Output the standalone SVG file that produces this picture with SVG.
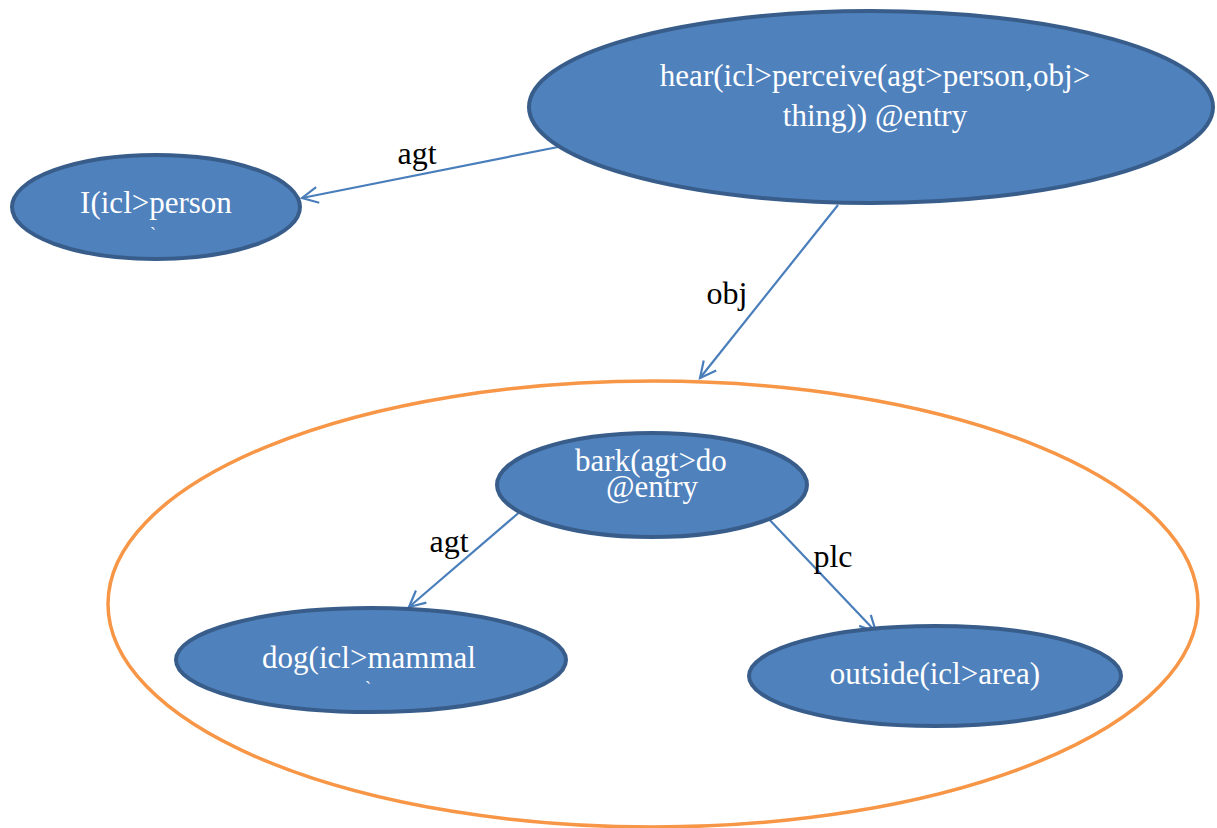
<svg xmlns="http://www.w3.org/2000/svg" width="1217" height="828" viewBox="0 0 1217 828">
<style>
.node{fill:#4F81BD;stroke:#385D8A;stroke-width:4}
.nt{font-family:"Liberation Serif","Times New Roman",serif;font-size:31px;fill:#FFFFFF;text-anchor:middle}
.lbl{font-family:"Liberation Serif","Times New Roman",serif;font-size:32px;fill:#000000;text-anchor:middle}
.edge{stroke:#4A7EBB;stroke-width:2.2;fill:none;marker-end:url(#arr)}
</style>
<defs>
<marker id="arr" markerUnits="userSpaceOnUse" markerWidth="24" markerHeight="24" refX="20" refY="12" orient="auto" viewBox="0 0 24 24">
<path d="M4,4 L20,12 L4,20" fill="none" stroke="#4A7EBB" stroke-width="2.2"/>
</marker>
</defs>
<rect width="1217" height="828" fill="#FFFFFF"/>
<g id="scope">
<ellipse cx="653" cy="604" rx="545" ry="223" fill="none" stroke="#F79646" stroke-width="3.5"/>
</g>
<g id="connectors">
<line class="edge" x1="558" y1="147" x2="302" y2="198"/>
<text class="lbl" x="417" y="164">agt</text>
<line class="edge" x1="838" y1="205" x2="700" y2="378"/>
<text class="lbl" x="727" y="304">obj</text>
<line class="edge" x1="522" y1="510" x2="409" y2="607"/>
<text class="lbl" x="449" y="552">agt</text>
<line class="edge" x1="765" y1="515" x2="876" y2="632"/>
<text class="lbl" x="833" y="567">plc</text>
</g>
<g id="hear">
<ellipse class="node" cx="871" cy="107" rx="342" ry="96"/>
<text class="nt" x="875" y="86">hear(icl&gt;perceive(agt&gt;person,obj&gt;</text>
<text class="nt" x="875" y="126">thing)) @entry</text>
</g>
<g id="I">
<ellipse class="node" cx="156" cy="207" rx="144" ry="52"/>
<text class="nt" x="156" y="213">I(icl&gt;person</text>
<text class="nt" x="153" y="240" style="font-size:18px">`</text>
</g>
<g id="bark">
<ellipse class="node" cx="652" cy="485" rx="155" ry="52"/>
<text class="nt" x="651" y="471">bark(agt&gt;do</text>
<text class="nt" x="652" y="497">@entry</text>
</g>
<g id="dog">
<ellipse class="node" cx="371" cy="660" rx="195" ry="52"/>
<text class="nt" x="369" y="668">dog(icl&gt;mammal</text>
<text class="nt" x="368" y="694" style="font-size:18px">`</text>
</g>
<g id="outside">
<ellipse class="node" cx="935" cy="676" rx="186" ry="50"/>
<text class="nt" x="935" y="684">outside(icl&gt;area)</text>
</g>
</svg>
